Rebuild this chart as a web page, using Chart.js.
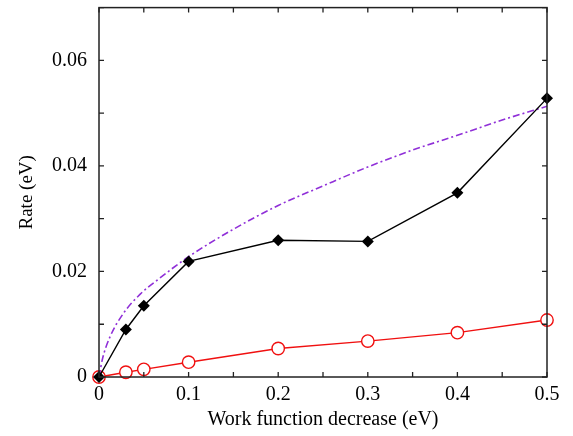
<!DOCTYPE html>
<html>
<head>
<meta charset="utf-8">
<script src="https://cdn.jsdelivr.net/npm/chart.js@4/dist/chart.umd.min.js"></script>
<style>
  html, body { margin: 0; padding: 0; background: #fff; }
  #wrap { width: 573px; height: 436px; }
</style>
</head>
<body>
<div id="wrap"><canvas id="chart" width="573" height="436"></canvas></div>
<script>
// data
const workDecrease = [0, 0.03, 0.05, 0.1, 0.2, 0.3, 0.4, 0.5];
const rateDiamond = [0, 0.009, 0.0135, 0.0219, 0.0259, 0.0257, 0.0349, 0.0528];
const rateCircle = [0, 0.0009, 0.00145, 0.0028, 0.0054, 0.0068, 0.0084, 0.0108];

const curveX = [0, 0.004, 0.012, 0.027, 0.046, 0.066, 0.1, 0.15, 0.2, 0.25, 0.3, 0.35, 0.4, 0.45, 0.5];
const curveY = [0, 0.0035, 0.0075, 0.012, 0.0157, 0.0185, 0.0228, 0.028, 0.0325, 0.0362, 0.0398, 0.043, 0.0458, 0.0487, 0.0513];

const xLabels = ['0', '0.1', '0.2', '0.3', '0.4', '0.5'];
const yLabels = ['0', '0.02', '0.04', '0.06'];

const toPoints = (xs, ys) => xs.map((x, i) => ({ x: x, y: ys[i] }));
const serif = 'Liberation Serif';

// frame plus inward ticks on all four sides
const frameTicks = {
  id: 'frameTicks',
  afterDraw(chart) {
    const { ctx, chartArea: a, scales } = chart;
    const len = 5;
    ctx.save();
    ctx.strokeStyle = '#222';
    ctx.lineWidth = 1.3;
    scales.x.ticks.forEach(t => {
      const px = scales.x.getPixelForValue(t.value);
      ctx.beginPath();
      ctx.moveTo(px, a.bottom); ctx.lineTo(px, a.bottom - len);
      ctx.moveTo(px, a.top); ctx.lineTo(px, a.top + len);
      ctx.stroke();
    });
    scales.y.ticks.forEach(t => {
      const py = scales.y.getPixelForValue(t.value);
      ctx.beginPath();
      ctx.moveTo(a.left, py); ctx.lineTo(a.left + len, py);
      ctx.moveTo(a.right, py); ctx.lineTo(a.right - len, py);
      ctx.stroke();
    });
    ctx.lineWidth = 1.5;
    ctx.strokeRect(a.left, a.top, a.right - a.left, a.bottom - a.top);
    ctx.restore();
  }
};

new Chart(document.getElementById('chart'), {
  type: 'scatter',
  data: {
    datasets: [
      {
        data: toPoints(workDecrease, rateDiamond),
        showLine: true,
        clip: false,
        borderColor: '#000',
        backgroundColor: '#000',
        borderWidth: 1.4,
        pointStyle: 'rectRot',
        pointRadius: 6,
        pointBorderWidth: 0
      },
      {
        data: toPoints(curveX, curveY),
        showLine: true,
        borderColor: '#9030d8',
        borderWidth: 1.6,
        borderDash: [7, 3, 2, 3],
        pointRadius: 0,
        cubicInterpolationMode: 'monotone'
      },
      {
        data: toPoints(workDecrease, rateCircle),
        showLine: true,
        clip: false,
        borderColor: '#f01010',
        backgroundColor: '#fff',
        borderWidth: 1.4,
        pointStyle: 'circle',
        pointRadius: 6.2,
        pointBorderWidth: 1.4
      }
    ]
  },
  options: {
    responsive: false,
    animation: false,
    layout: { padding: { left: 0, right: 26, top: 6, bottom: 0 } },
    plugins: { legend: { display: false }, tooltip: { enabled: false } },
    scales: {
      x: {
        type: 'linear',
        min: 0,
        max: 0.5,
        afterFit: s => { s.height = 59; s.paddingLeft = 0; s.paddingRight = 0; },
        grid: { display: false, drawTicks: false },
        border: { display: false },
        ticks: {
          stepSize: 0.05,
          padding: 6,
          maxRotation: 0,
          autoSkip: false,
          color: '#000',
          font: { family: serif, size: 20 },
          callback: v => {
            const k = Math.round(v * 20);
            return k % 2 === 0 ? xLabels[k / 2] : '';
          }
        },
        title: {
          display: true,
          text: 'Work function decrease (eV)',
          color: '#000',
          font: { family: serif, size: 20 },
          padding: { top: 0, bottom: 4 }
        }
      },
      y: {
        type: 'linear',
        min: 0,
        max: 0.07,
        afterFit: s => { s.width = 99; s.paddingTop = 0; s.paddingBottom = 0; },
        grid: { display: false, drawTicks: false },
        border: { display: false },
        ticks: {
          stepSize: 0.01,
          padding: 12,
          autoSkip: false,
          color: '#000',
          font: { family: serif, size: 20 },
          callback: v => {
            const k = Math.round(v * 100);
            return k % 2 === 0 && k / 2 < yLabels.length ? yLabels[k / 2] : '';
          }
        },
        title: {
          display: true,
          text: 'Rate (eV)',
          color: '#000',
          font: { family: serif, size: 19 },
          padding: { top: 16, bottom: 0 }
        }
      }
    }
  },
  plugins: [frameTicks]
});
</script>
</body>
</html>
